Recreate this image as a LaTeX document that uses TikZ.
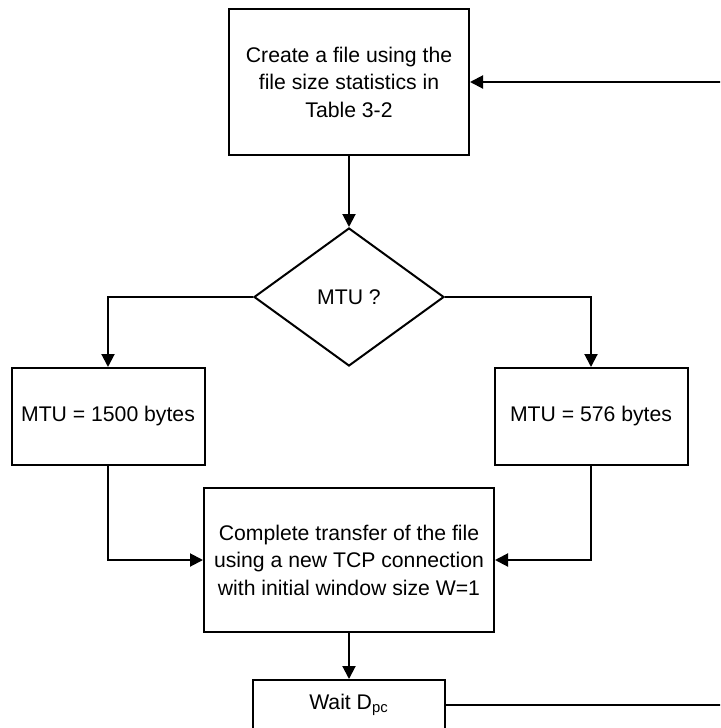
\documentclass[tikz,border=0pt]{standalone}
\usepackage{fontspec}
\setmainfont{Liberation Sans}
\usetikzlibrary{shapes.geometric,arrows.meta}

\begin{document}
\begin{tikzpicture}[x=0.5pt, y=-0.5pt, >={Triangle[length=6.5pt,width=6.5pt]},
    procbox/.style={draw, line width=1pt, align=center, inner sep=2pt, font=\fontsize{10.6}{13.75}\selectfont},
    decbox/.style={draw, diamond, line width=1pt, inner sep=0pt, minimum width=95pt, minimum height=69pt, font=\fontsize{10.6}{13.75}\selectfont},
    flow/.style={->, line width=1pt}]
    \useasboundingbox (0,0) rectangle (720,728);
    \clip (0,0) rectangle (720,728);

    \node[procbox, minimum width=120pt, minimum height=73pt] (create) at (349,82) {Create a file using the\\file size statistics in\\Table 3-2};
    \node[decbox] (mtu) at (349,297) {MTU ?};
    \node[procbox, minimum width=96.5pt, minimum height=48.5pt] (mtuBig) at (108,416.5) {MTU = 1500 bytes};
    \node[procbox, minimum width=96.5pt, minimum height=48.5pt] (mtuSmall) at (591,416.5) {MTU = 576 bytes};
    \node[procbox, minimum width=145pt, minimum height=72pt] (transfer) at (349,560) {Complete transfer of the file\\using a new TCP connection\\with initial window size W=1};
    \node[procbox, minimum width=96pt, minimum height=25pt] (wait) at (349,705) {Wait D\textsubscript{pc}};

    \coordinate (loopR) at (740,705);
    \coordinate (loopT) at (740,82);

    \draw[flow] (create.south) -- (mtu.north);
    \draw[flow] (mtu.west) -| (mtuBig.north);
    \draw[flow] (mtu.east) -| (mtuSmall.north);
    \draw[flow] (mtuBig.south) |- (transfer.west);
    \draw[flow] (mtuSmall.south) |- (transfer.east);
    \draw[flow] (transfer.south) -- (wait.north);
    \draw[flow] (wait.east) -- (loopR) -- (loopT) -- (create.east);
\end{tikzpicture}
\end{document}
